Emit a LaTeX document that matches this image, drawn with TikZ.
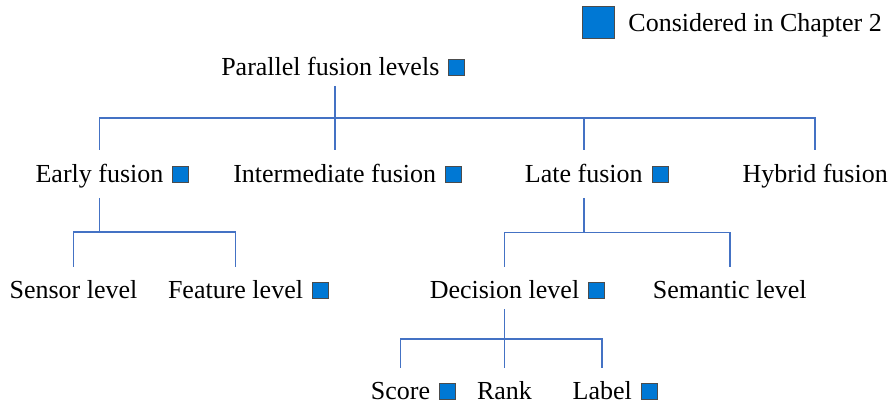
\documentclass[tikz,border=0pt]{standalone}
\usepackage{fontspec}
\setmainfont{Liberation Serif}
\usepackage{tikz}
\usetikzlibrary{positioning}
\definecolor{linkblue}{HTML}{4472C4}
\definecolor{chblue}{HTML}{0078D4}
\tikzstyle{fusion link}=[linkblue, line width=0.8pt]
\tikzstyle{fusion label}=[anchor=base, inner sep=0pt, font=\fontsize{13}{15}\selectfont]
\tikzstyle{chapter box}=[draw=black!70, fill=chblue, inner sep=0pt, minimum size=8pt, anchor=south west]
\newcommand{\fusionnode}[4][]{
  \node [fusion label, #1] (#2) at #3 {#4}
}
\newcommand{\chapterbox}[1]{
  \node [chapter box] (#1box) at ([xshift=4.25pt]#1.base east) {}
}

\begin{document}
\begin{tikzpicture}[x=0.5pt, y=-0.5pt]
        \useasboundingbox (0,0) rectangle (892,405);
        % legend
        \node [chapter box, minimum size=16pt, anchor=center] (legendbox) at (598,22) {};
        \fusionnode[anchor=base west]{legend}{(628,31.5)}{Considered in Chapter 2};

        \fusionnode{pfl}{(330.3,76)}{Parallel fusion levels}; \chapterbox{pfl};

        \fusionnode{early}{(99.5,182.5)}{Early fusion}; \chapterbox{early};
        \fusionnode{inter}{(334.7,182.5)}{Intermediate fusion}; \chapterbox{inter};
        \fusionnode{late}{(583.8,182.5)}{Late fusion}; \chapterbox{late};
        \fusionnode{hybrid}{(815.2,182.5)}{Hybrid fusion};

                \fusionnode{sensor}{(73.5,298.5)}{Sensor level};
                \fusionnode{feature}{(235.5,298.5)}{Feature level}; \chapterbox{feature};
                \fusionnode{decision}{(504.5,298.5)}{Decision level}; \chapterbox{decision};
                \fusionnode{semantic}{(729.7,298.5)}{Semantic level};

                        \fusionnode{score}{(400.5,399.8)}{Score}; \chapterbox{score};
                        \fusionnode{rank}{(504.5,399.8)}{Rank};
                        \fusionnode{label}{(602.2,399.8)}{Label}; \chapterbox{label};

        \draw[fusion link] ([shift={(4.4,10)}]pfl.base) -- ++(0,32.3) coordinate (j1);
            \draw[fusion link] (j1) -| ([yshift=16.25pt]early.base);
            \draw[fusion link] (j1) -- ([yshift=16.25pt]inter.base);
            \draw[fusion link] (j1) -| ([yshift=16.25pt]late.base);
            \draw[fusion link] (j1) -| ([yshift=16.25pt]hybrid.base);

        \draw[fusion link] ([yshift=-7.75pt]early.base) -- ++(0,34) coordinate (j2);
            \draw[fusion link] (j2) -| ([yshift=15.75pt]sensor.base);
            \draw[fusion link] (j2) -| ([yshift=15.75pt]feature.base);

        \draw[fusion link] ([yshift=-7.75pt]late.base) -- ++(0,34.7) coordinate (j3);
            \draw[fusion link] (j3) -| ([yshift=15.75pt]decision.base);
            \draw[fusion link] (j3) -| ([yshift=15.75pt]semantic.base);

        \draw[fusion link] ([yshift=-5.25pt]decision.base) -- ++(0,30) coordinate (j4);
            \draw[fusion link] (j4) -| ([yshift=15.9pt]score.base);
            \draw[fusion link] (j4) -- ([yshift=15.9pt]rank.base);
            \draw[fusion link] (j4) -| ([yshift=15.9pt]label.base);
\end{tikzpicture}
\end{document}
